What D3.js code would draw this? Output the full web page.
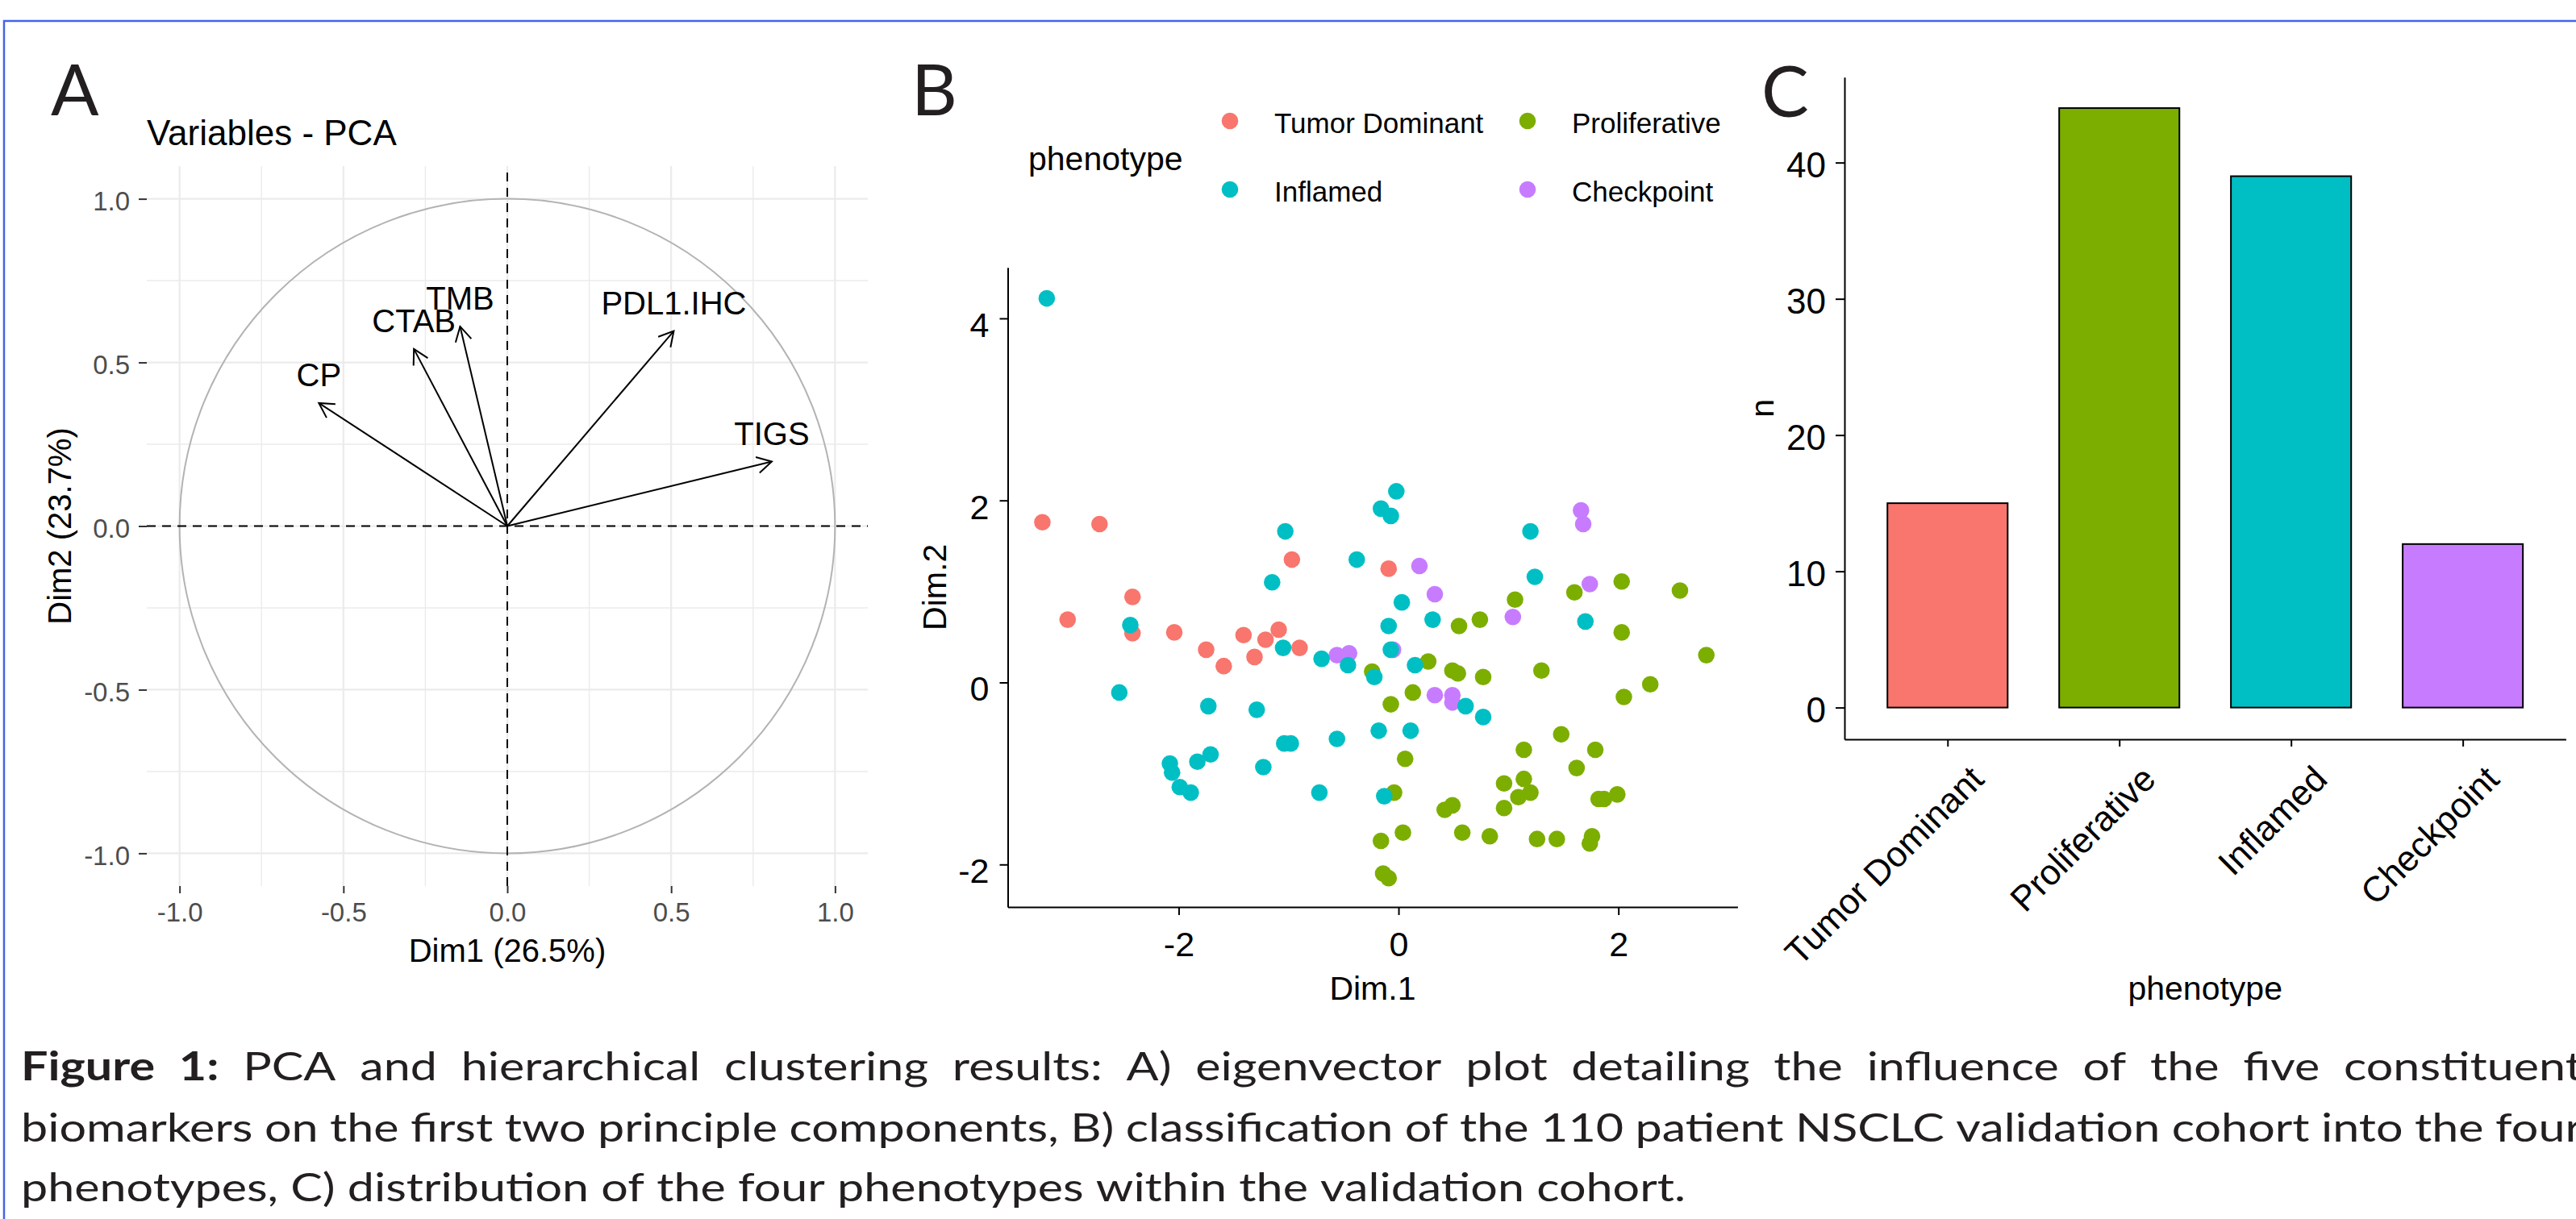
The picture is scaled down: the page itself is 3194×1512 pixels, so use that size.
<!DOCTYPE html>
<html>
<head>
<meta charset="utf-8">
<script src="https://cdn.jsdelivr.net/npm/d3@7"></script>
<style>
  body { margin: 0; background: #fff; }
  svg { display: block; }
</style>
</head>
<body>
<svg id="fig" width="3194" height="1512"></svg>
<script>
// ---------- data ----------
// panel A: variable coordinates on Dim1 / Dim2
var pcaVars = ["CP", "CTAB", "TMB", "PDL1.IHC", "TIGS"];
var pcaDim1 = [-0.575, -0.285, -0.144, 0.508, 0.807];
var pcaDim2 = [0.376, 0.541, 0.610, 0.596, 0.197];

// panel B / C: phenotypes
var phenotypes = ["Tumor Dominant", "Proliferative", "Inflamed", "Checkpoint"];
var phenoColors = ["#F8766D", "#7CAE00", "#00BFC4", "#C77CFF"];
var phenoCounts = [15, 44, 39, 12];

// patient scores [Dim.1, Dim.2] per phenotype
var scoresTumor = [[-3.24, 1.76], [-2.72, 1.74], [-3.01, 0.69], [-2.42, 0.94], [-2.42, 0.54],
  [-2.04, 0.55], [-1.75, 0.36], [-1.59, 0.18], [-1.41, 0.52], [-1.31, 0.28], [-1.21, 0.47],
  [-1.09, 0.58], [-0.90, 0.38], [-0.97, 1.35], [-0.09, 1.25]];
var scoresCheckpoint = [[-0.56, 0.30], [-0.45, 0.32], [0.19, 1.28], [-0.05, 0.36], [0.33, 0.97],
  [0.33, -0.14], [0.49, -0.14], [0.49, -0.22], [1.04, 0.72], [1.66, 1.89], [1.68, 1.74], [1.74, 1.08]];
var scoresProliferative = [[-0.24, 0.12], [0.27, 0.23], [0.13, -0.11], [-0.07, -0.24], [0.06, -0.84],
  [-0.04, -1.21], [0.04, -1.65], [-0.16, -1.74], [-0.14, -2.10], [-0.09, -2.15],
  [0.49, 0.13], [0.54, 0.10], [0.55, 0.62], [0.74, 0.69], [0.77, 0.06], [1.06, 0.91], [1.30, 0.13],
  [1.60, 0.99], [2.03, 1.11], [2.56, 1.01], [2.03, 0.55], [2.80, 0.30], [2.29, -0.02], [2.05, -0.16],
  [1.48, -0.57], [1.14, -0.74], [1.79, -0.74], [1.62, -0.94], [0.96, -1.11], [1.14, -1.06],
  [1.20, -1.21], [1.09, -1.26], [0.96, -1.38], [0.42, -1.40], [0.49, -1.35], [1.82, -1.28],
  [1.87, -1.28], [1.99, -1.23], [0.58, -1.65], [0.83, -1.69], [1.26, -1.72], [1.44, -1.72],
  [1.76, -1.69], [1.74, -1.77]];
var scoresInflamed = [[-3.20, 4.22], [-2.44, 0.63], [-2.54, -0.11], [-1.73, -0.26], [-1.29, -0.30],
  [-1.03, 1.66], [-1.15, 1.10], [-1.05, 0.38], [-0.38, 1.35], [-0.70, 0.26], [-0.46, 0.19],
  [-0.02, 2.10], [-0.16, 1.91], [-0.07, 1.83], [0.03, 0.88], [-0.09, 0.62], [-0.07, 0.36],
  [0.31, 0.69], [0.15, 0.19], [-0.22, 0.06], [-0.18, -0.53], [0.11, -0.53], [-0.56, -0.62],
  [-1.04, -0.67], [-0.98, -0.67], [-1.23, -0.93], [-1.71, -0.79], [-1.83, -0.87], [-2.08, -0.89],
  [-2.06, -0.99], [-1.99, -1.15], [-1.89, -1.21], [-0.72, -1.21], [-0.13, -1.25], [1.20, 1.66],
  [1.24, 1.16], [1.70, 0.67], [0.61, -0.26], [0.77, -0.38]];

// tick values
var ticksA = [-1, -0.5, 0, 0.5, 1];
var gridA = [-1, -0.75, -0.5, -0.25, 0, 0.25, 0.5, 0.75, 1];
var ticksBx = [-2, 0, 2];
var ticksBy = [-2, 0, 2, 4];
var ticksCy = [0, 10, 20, 30, 40];

var captionLines = [
  "Figure 1: PCA and hierarchical clustering results: A) eigenvector plot detailing the influence of the five constituent",
  "biomarkers on the first two principle components, B) classification of the 110 patient NSCLC validation cohort into the four",
  "phenotypes, C) distribution of the four phenotypes within the validation cohort."
];

var sans = "'Liberation Sans', Arial, sans-serif";
var svg = d3.select("#fig");
svg.append("rect").attr("width", 3194).attr("height", 1512).attr("fill", "#fff");

// blue frame round the figure
svg.append("rect")
  .attr("x", 5).attr("y", 26).attr("width", 3400).attr("height", 1700)
  .attr("fill", "none").attr("stroke", "#4563e6").attr("stroke-width", 2.5);

// panel letters
var letters = [["A", 63, 143], ["B", 1130, 143], ["C", 2184, 145]];
svg.selectAll(".letter").data(letters).enter().append("text")
  .attr("x", function (d) { return d[1]; })
  .attr("y", function (d) { return d[2]; })
  .attr("font-family", "Lato").attr("font-size", 88).attr("fill", "#231f20")
  .text(function (d) { return d[0]; });

function styleAxis(g, size, color, tickColor) {
  g.attr("font-size", size).attr("font-family", sans);
  g.selectAll(".tick text").attr("fill", color);
  g.selectAll(".tick line").attr("stroke", tickColor).attr("stroke-width", 2);
  g.select(".domain").attr("stroke", "#000").attr("stroke-width", 2);
}

// ================= panel A =================
var xA = d3.scaleLinear().domain([-1.1, 1.1]).range([182, 1076]);
var yA = d3.scaleLinear().domain([-1.1, 1.1]).range([1099, 206]);
var gA = svg.append("g");

gA.selectAll(".vgrid").data(gridA).enter().append("line")
  .attr("x1", function (d) { return xA(d); }).attr("x2", function (d) { return xA(d); })
  .attr("y1", yA(1.1)).attr("y2", yA(-1.1))
  .attr("stroke", "#ebebeb").attr("stroke-width", function (d, i) { return i % 2 === 0 ? 2.2 : 1.4; });
gA.selectAll(".hgrid").data(gridA).enter().append("line")
  .attr("y1", function (d) { return yA(d); }).attr("y2", function (d) { return yA(d); })
  .attr("x1", xA(-1.1)).attr("x2", xA(1.1))
  .attr("stroke", "#ebebeb").attr("stroke-width", function (d, i) { return i % 2 === 0 ? 2.2 : 1.4; });

// correlation circle
gA.append("ellipse")
  .attr("cx", xA(0)).attr("cy", yA(0))
  .attr("rx", xA(1) - xA(0)).attr("ry", yA(0) - yA(1))
  .attr("fill", "none").attr("stroke", "#b3b3b3").attr("stroke-width", 2);

gA.append("line").attr("x1", xA(-1.1)).attr("x2", xA(1.1)).attr("y1", yA(0)).attr("y2", yA(0))
  .attr("stroke", "#000").attr("stroke-width", 2).attr("stroke-dasharray", "11,8");
gA.append("line").attr("y1", yA(-1.1)).attr("y2", yA(1.1)).attr("x1", xA(0)).attr("x2", xA(0))
  .attr("stroke", "#000").attr("stroke-width", 2).attr("stroke-dasharray", "11,8");

svg.append("defs").append("marker")
  .attr("id", "arrowhead")
  .attr("viewBox", "-22 -12 26 24")
  .attr("markerUnits", "userSpaceOnUse")
  .attr("markerWidth", 26).attr("markerHeight", 24)
  .attr("refX", 0).attr("refY", 0)
  .attr("orient", "auto")
  .append("path")
  .attr("d", "M-18,-10 L0,0 L-18,10")
  .attr("fill", "none").attr("stroke", "#000").attr("stroke-width", 2);

var varData = pcaVars.map(function (v, i) { return { name: v, x: pcaDim1[i], y: pcaDim2[i] }; });
gA.selectAll(".arrow").data(varData).enter().append("line")
  .attr("x1", xA(0)).attr("y1", yA(0))
  .attr("x2", function (d) { return xA(d.x); })
  .attr("y2", function (d) { return yA(d.y); })
  .attr("stroke", "#000").attr("stroke-width", 2)
  .attr("marker-end", "url(#arrowhead)");
gA.selectAll(".varlab").data(varData).enter().append("text")
  .attr("x", function (d) { return xA(d.x); })
  .attr("y", function (d) { return yA(d.y) - 21; })
  .attr("text-anchor", "middle")
  .attr("font-family", sans).attr("font-size", 40).attr("fill", "#000")
  .text(function (d) { return d.name; });

var axAy = gA.append("g").attr("transform", "translate(" + xA(-1.1) + ",0)")
  .call(d3.axisLeft(yA).tickValues(ticksA).tickFormat(function (d) { return d.toFixed(1); })
    .tickSize(10).tickPadding(11));
styleAxis(axAy, 33, "#4d4d4d", "#333");
axAy.select(".domain").remove();
axAy.selectAll(".tick text").attr("dy", "0.42em");

var axAx = gA.append("g").attr("transform", "translate(0," + yA(-1.1) + ")")
  .call(d3.axisBottom(xA).tickValues(ticksA).tickFormat(function (d) { return d.toFixed(1); })
    .tickSize(9).tickPadding(12));
styleAxis(axAx, 33, "#4d4d4d", "#333");
axAx.select(".domain").remove();

gA.append("text").attr("x", 182).attr("y", 180)
  .attr("font-family", sans).attr("font-size", 44).attr("fill", "#000")
  .text("Variables - PCA");
gA.append("text").attr("x", xA(0)).attr("y", 1193).attr("text-anchor", "middle")
  .attr("font-family", sans).attr("font-size", 40).attr("fill", "#000")
  .text("Dim1 (26.5%)");
gA.append("text").attr("transform", "translate(88," + yA(0) + ") rotate(-90)")
  .attr("text-anchor", "middle")
  .attr("font-family", sans).attr("font-size", 40).attr("fill", "#000")
  .text("Dim2 (23.7%)");

// ================= panel B =================
var xB = d3.scaleLinear().domain([-3.555, 3.084]).range([1249.5, 2154.4]);
var yB = d3.scaleLinear().domain([-2.467, 4.56]).range([1125, 331.7]);
var gB = svg.append("g");

var groupsB = [
  { key: 0, pts: scoresTumor },
  { key: 3, pts: scoresCheckpoint },
  { key: 1, pts: scoresProliferative },
  { key: 2, pts: scoresInflamed }
];
groupsB.forEach(function (grp) {
  gB.append("g").selectAll("circle").data(grp.pts).enter().append("circle")
    .attr("cx", function (d) { return xB(d[0]); })
    .attr("cy", function (d) { return yB(d[1]); })
    .attr("r", 10.3)
    .attr("fill", phenoColors[grp.key]);
});

var axBy = gB.append("g").attr("transform", "translate(" + xB.range()[0] + ",0)")
  .call(d3.axisLeft(yB).tickValues(ticksBy).tickFormat(function (d) { return String(d); })
    .tickSize(10).tickPadding(13).tickSizeOuter(0));
styleAxis(axBy, 43, "#000", "#000");
axBy.selectAll(".tick text").attr("dy", "0.52em");

var axBx = gB.append("g").attr("transform", "translate(0," + yB.range()[0] + ")")
  .call(d3.axisBottom(xB).tickValues(ticksBx).tickFormat(function (d) { return String(d); })
    .tickSize(10).tickPadding(20).tickSizeOuter(0));
styleAxis(axBx, 43, "#000", "#000");

gB.append("text").attr("x", (xB.range()[0] + xB.range()[1]) / 2).attr("y", 1240)
  .attr("text-anchor", "middle").attr("font-family", sans).attr("font-size", 41)
  .text("Dim.1");
gB.append("text").attr("transform", "translate(1173," + (yB.range()[0] + yB.range()[1]) / 2 + ") rotate(-90)")
  .attr("text-anchor", "middle").attr("font-family", sans).attr("font-size", 41)
  .text("Dim.2");

// legend (two columns, two rows)
var legPos = [[1525, 150], [1894, 150], [1525, 235], [1894, 235]];
gB.append("text").attr("x", 1275).attr("y", 211)
  .attr("font-family", sans).attr("font-size", 41).text("phenotype");
var leg = gB.selectAll(".leg").data(phenotypes).enter().append("g")
  .attr("transform", function (d, i) { return "translate(" + legPos[i][0] + "," + legPos[i][1] + ")"; });
leg.append("circle").attr("r", 10.3).attr("fill", function (d, i) { return phenoColors[i]; });
leg.append("text").attr("x", 55).attr("y", 15)
  .attr("font-family", sans).attr("font-size", 35).text(function (d) { return d; });

// ================= panel C =================
var xC = d3.scalePoint().domain(phenotypes).range([2287, 3181.4]).padding(0.6);
var yC = d3.scaleLinear().domain([-2.33, 46.27]).range([917, 95.7]);
var barW = xC.step() * 0.7;
var gC = svg.append("g");

gC.selectAll(".bar").data(phenotypes).enter().append("rect")
  .attr("x", function (d) { return xC(d) - barW / 2; })
  .attr("y", function (d, i) { return yC(phenoCounts[i]); })
  .attr("width", barW)
  .attr("height", function (d, i) { return yC(0) - yC(phenoCounts[i]); })
  .attr("fill", function (d, i) { return phenoColors[i]; })
  .attr("stroke", "#000").attr("stroke-width", 2);

var axCy = gC.append("g").attr("transform", "translate(" + xC.range()[0] + ",0)")
  .call(d3.axisLeft(yC).tickValues(ticksCy).tickSize(11).tickPadding(12).tickSizeOuter(0));
styleAxis(axCy, 44, "#000", "#000");
axCy.selectAll(".tick text").attr("dy", "0.4em");

var axCx = gC.append("g").attr("transform", "translate(0," + yC.range()[0] + ")")
  .call(d3.axisBottom(xC).tickSize(9).tickSizeOuter(0));
styleAxis(axCx, 44, "#000", "#000");
axCx.selectAll(".tick text")
  .attr("y", null).attr("dy", null)
  .attr("text-anchor", "end")
  .attr("transform", "translate(47,52) rotate(-45)");

gC.append("text").attr("x", (xC.range()[0] + xC.range()[1]) / 2).attr("y", 1240)
  .attr("text-anchor", "middle").attr("font-family", sans).attr("font-size", 41)
  .text("phenotype");
gC.append("text").attr("transform", "translate(2199," + (yC.range()[0] + yC.range()[1]) / 2 + ") rotate(-90)")
  .attr("text-anchor", "middle").attr("font-family", sans).attr("font-size", 41)
  .text("n");

// ================= caption =================
var capLeft = 26, capRight = 3202, line3Right = 2090;
var capBase = [1340, 1416, 1490];
var capG = svg.append("g").attr("font-family", "Lato").attr("font-size", 49).attr("fill", "#231f20");

function measure(word, bold) {
  var t = capG.append("text").attr("font-weight", bold ? 700 : 400).text(word);
  var w = t.node().getComputedTextLength();
  t.remove();
  return w;
}
var spaceW = measure("a a") - measure("aa");

var capWords = captionLines.map(function (line, li) {
  return line.split(" ").map(function (w, wi) {
    var bold = li === 0 && wi < 2;
    return { text: w, bold: bold, w: measure(w, bold) };
  });
});
var lastLine = capWords[2];
var natural = d3.sum(lastLine, function (d) { return d.w; }) + spaceW * (lastLine.length - 1);
var squeeze = (line3Right - capLeft) / natural;

capWords.forEach(function (words, li) {
  var total = d3.sum(words, function (d) { return d.w; }) * squeeze;
  var gap = li < 2 ? (capRight - capLeft - total) / (words.length - 1) : spaceW * squeeze;
  var x = capLeft;
  words.forEach(function (wd) {
    capG.append("text")
      .attr("transform", "translate(" + x + "," + capBase[li] + ") scale(" + squeeze + ",1)")
      .attr("font-weight", wd.bold ? 700 : 400)
      .text(wd.text);
    x += wd.w * squeeze + gap;
  });
});
</script>
</body>
</html>
